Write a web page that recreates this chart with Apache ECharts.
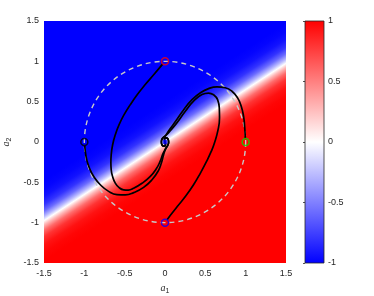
<!DOCTYPE html>
<html>
<head>
<meta charset="utf-8">
<script src="https://cdn.jsdelivr.net/npm/echarts@6/dist/echarts.min.js"></script>
<style>
html,body{margin:0;padding:0;background:#fff;}
#chart{width:374px;height:296px;}
</style>
</head>
<body>
<div id="chart"></div>
<script>
// ---- data ----
const axisRange = [-1.5, 1.5];
const axisTicks = [-1.5, -1, -0.5, 0, 0.5, 1, 1.5];
const colorbarTicks = [-1, -0.5, 0, 0.5, 1];
const colorbarRange = [-1, 1];
// background field: boundary line a2 = slope * a1, profile across it (vertical offset -> value)
const boundarySlope = 0.65;
const fieldOffset = [-0.5, -0.4, -0.3, -0.2, -0.12, -0.05, 0, 0.05, 0.12, 0.2, 0.3, 0.4, 0.5];
const fieldValue  = [1, 0.98, 0.93, 0.8, 0.58, 0.27, 0, -0.27, -0.58, -0.8, -0.93, -0.98, -1];
// unit circle (center x, center y, radius)
const unitCircle = [[0, 0, 1]];
// trajectories (drawn from the edge of each start marker to the origin)
const trajFromTop = [[-0.03,0.965],[-0.138,0.836],[-0.245,0.712],[-0.343,0.588],[-0.430,0.463],[-0.507,0.339],[-0.569,0.215],[-0.616,0.091],[-0.649,-0.034],[-0.667,-0.158],[-0.671,-0.257],[-0.667,-0.344],[-0.650,-0.427],[-0.618,-0.506],[-0.572,-0.563],[-0.513,-0.593],[-0.455,-0.596],[-0.389,-0.574],[-0.285,-0.512],[-0.182,-0.427],[-0.108,-0.332],[-0.062,-0.244],[-0.025,-0.145],[0.01,-0.08],[0.035,-0.04],[0.045,0.0],[0.035,0.04],[0.012,0.052],[-0.006,0.035],[0,0]];
const trajFromLeft = [[-0.995,-0.045],[-0.99,-0.096],[-0.978,-0.183],[-0.959,-0.261],[-0.928,-0.344],[-0.883,-0.427],[-0.802,-0.530],[-0.699,-0.612],[-0.595,-0.652],[-0.492,-0.655],[-0.389,-0.628],[-0.265,-0.562],[-0.161,-0.468],[-0.085,-0.36],[-0.045,-0.26],[-0.018,-0.16],[0.01,-0.08],[0.035,-0.04],[0.045,0.0],[0.035,0.04],[0.012,0.052],[-0.006,0.035],[0,0]];
const trajFromRight = [[0.996,0.045],[0.992,0.12],[0.987,0.194],[0.974,0.318],[0.945,0.442],[0.900,0.547],[0.830,0.629],[0.747,0.672],[0.644,0.683],[0.540,0.662],[0.437,0.609],[0.335,0.525],[0.232,0.401],[0.149,0.281],[0.087,0.195],[0.042,0.133],[0.008,0.08],[-0.035,0.04],[-0.045,0.0],[-0.035,-0.04],[-0.012,-0.052],[0.006,-0.035],[0,0]];
const trajFromBottom = [[0.026,-0.965],[0.074,-0.9],[0.152,-0.8],[0.252,-0.676],[0.354,-0.530],[0.439,-0.385],[0.515,-0.241],[0.573,-0.117],[0.613,-0.012],[0.658,0.153],[0.676,0.302],[0.674,0.401],[0.652,0.525],[0.602,0.586],[0.540,0.607],[0.458,0.588],[0.354,0.506],[0.252,0.382],[0.149,0.240],[0.066,0.14],[0.02,0.09],[-0.035,0.04],[-0.045,0.0],[-0.035,-0.04],[-0.012,-0.052],[0.006,-0.035],[0,0]];
// start markers and center
const startPoints = [[0,1],[-1,0],[1,0],[0,-1]];
const startColors = ['#ff0000','#000000','#00dd00','#0000ff'];
const centerPoint = [[0,0]];

// ---- helpers ----
function valueColor(v){
  let r,g,b;
  if (v >= 0){ r=255; g=Math.round(255*(1-v)); b=g; }
  else { b=255; r=Math.round(255*(1+v)); g=r; }
  return 'rgb('+r+','+g+','+b+')';
}
const font = "'Liberation Sans', Arial, Helvetica, sans-serif";
const textColor = '#262626';

const chart = echarts.init(document.getElementById('chart'), null, {renderer:'canvas'});

const trajSeries = [trajFromTop, trajFromLeft, trajFromRight, trajFromBottom].map(d => ({
  type:'line', xAxisIndex:0, yAxisIndex:0, data:d, showSymbol:false, symbol:'none',
  smooth:0.5, lineStyle:{color:'#000', width:1.7}, z:4, silent:true, animation:false
}));

const option = {
  animation:false,
  grid:[
    {left:44, top:21, width:242, height:242, containLabel:false, outerBoundsMode:'none'},
    {left:305, top:21, width:19, height:242, containLabel:false, outerBoundsMode:'none'}
  ],
  xAxis:[
    {type:'value', gridIndex:0, min:axisRange[0], max:axisRange[1], interval:0.5,
     axisLine:{show:false}, axisTick:{show:false}, splitLine:{show:false},
     axisLabel:{color:textColor, fontSize:9, fontFamily:font, margin:6,
       customValues: axisTicks},
     name:'{i|a}{s|1}', nameLocation:'middle', nameGap:14,
     nameTextStyle:{rich:{i:{fontStyle:'italic', fontSize:10, fontFamily:"'Liberation Serif', serif", color:textColor},
                         s:{fontSize:7, fontFamily:font, color:textColor, padding:[6,0,0,0]}}}},
    {type:'value', gridIndex:1, min:0, max:1, show:false}
  ],
  yAxis:[
    {type:'value', gridIndex:0, min:axisRange[0], max:axisRange[1], interval:0.5,
     axisLine:{show:false}, axisTick:{show:false}, splitLine:{show:false},
     axisLabel:{color:textColor, fontSize:9, fontFamily:font, margin:5,
       customValues: axisTicks},
     name:'{i|a}{s|2}', nameLocation:'middle', nameGap:26,
     nameTextStyle:{rich:{i:{fontStyle:'italic', fontSize:10, fontFamily:"'Liberation Serif', serif", color:textColor},
                         s:{fontSize:7, fontFamily:font, color:textColor, padding:[6,0,0,0]}}}},
    {type:'value', gridIndex:1, min:colorbarRange[0], max:colorbarRange[1], interval:0.5, position:'right',
     axisLine:{show:false}, splitLine:{show:false},
     axisTick:{show:true, inside:true, length:2, lineStyle:{color:textColor, width:0.8}},
     axisLabel:{color:textColor, fontSize:9, fontFamily:font, margin:4, customValues: colorbarTicks}}
  ],
  series:[
    {
      type:'custom', xAxisIndex:0, yAxisIndex:0, data:[[axisRange[0], axisRange[0]]], z:1, silent:true,
      renderItem:function(params, api){
        const lo = axisRange[0], hi = axisRange[1];
        const pts = [api.coord([lo,lo]), api.coord([hi,lo]), api.coord([hi,hi]), api.coord([lo,hi])];
        const O = api.coord([0,0]);
        const P = api.coord([1, boundarySlope]);
        let ux = P[0]-O[0], uy = P[1]-O[1];
        const ul = Math.hypot(ux,uy); ux/=ul; uy/=ul;
        const Nx = uy, Ny = -ux;
        const sx = api.size([1,0])[0], sy = api.size([0,1])[1];
        const k = (-Ny/sy) - boundarySlope*(Nx/sx);
        const dMin = fieldOffset[0], dMax = fieldOffset[fieldOffset.length-1];
        const t1 = dMin/k, t2 = dMax/k;
        const stops = fieldOffset.map((d,i)=>({offset:(d-dMin)/(dMax-dMin), color:valueColor(fieldValue[i])}));
        return {
          type:'polygon', shape:{points:pts},
          style:{fill:{type:'linear', x:O[0]+t1*Nx, y:O[1]+t1*Ny, x2:O[0]+t2*Nx, y2:O[1]+t2*Ny, colorStops:stops, global:true}}
        };
      }
    },
    {
      type:'custom', xAxisIndex:0, yAxisIndex:0, data:unitCircle, z:2, silent:true,
      renderItem:function(params, api){
        const c = api.coord([api.value(0), api.value(1)]);
        const r = (api.size([api.value(2),0])[0] + api.size([0,api.value(2)])[1])/2;
        return {type:'circle', shape:{cx:c[0], cy:c[1], r:r},
          style:{fill:null, stroke:'#c8c8c8', lineWidth:1.4, lineDash:[5,4]}};
      }
    },
    ...trajSeries,
    {
      type:'scatter', xAxisIndex:0, yAxisIndex:0, z:6, silent:true, symbol:'circle', symbolSize:7,
      data: startPoints.map((p,i)=>({value:p, itemStyle:{color:'rgba(0,0,0,0)', borderColor:startColors[i], borderWidth:1.5}}))
    },
    {
      type:'scatter', xAxisIndex:0, yAxisIndex:0, z:6, silent:true, symbol:'circle', symbolSize:5,
      data: centerPoint, itemStyle:{color:'#0000ff'}
    },
    {
      type:'custom', xAxisIndex:1, yAxisIndex:1, data:[[0, colorbarRange[0]]], z:1, silent:true,
      renderItem:function(params, api){
        const a = api.coord([0, colorbarRange[1]]);
        const b = api.coord([1, colorbarRange[0]]);
        return {type:'rect', shape:{x:a[0], y:a[1], width:b[0]-a[0], height:b[1]-a[1]},
          style:{fill:{type:'linear', x:0, y:0, x2:0, y2:1, colorStops:[
            {offset:0, color:valueColor(colorbarRange[1])},
            {offset:0.5, color:valueColor(0)},
            {offset:1, color:valueColor(colorbarRange[0])}]}, stroke:textColor, lineWidth:0.8}};
      }
    }
  ]
};
chart.setOption(option);
</script>
</body>
</html>
